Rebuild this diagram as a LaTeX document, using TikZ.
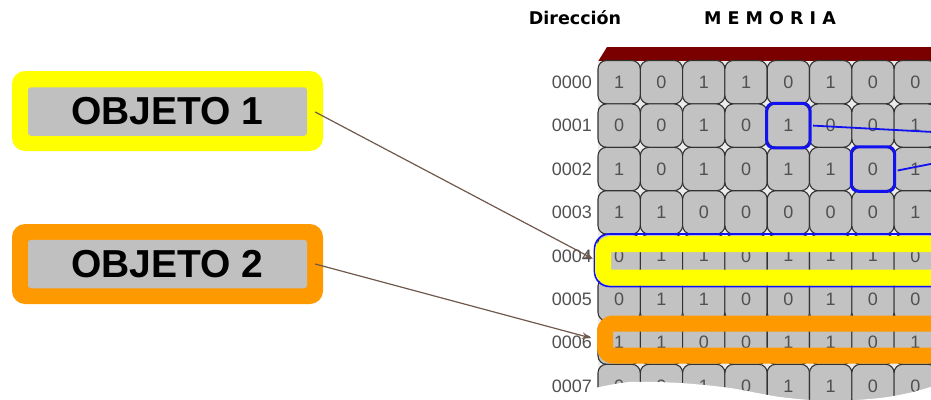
\documentclass[tikz,border=0pt]{standalone}
\usepackage{fontspec}
\setmainfont{Liberation Sans}
\newfontfamily\headfont{DejaVu Sans}
\usetikzlibrary{arrows.meta}

\definecolor{cellgray}{RGB}{194,194,194}
\definecolor{celledge}{RGB}{50,50,50}
\definecolor{gapfill}{RGB}{236,236,236}
\definecolor{digitgray}{RGB}{80,80,80}
\definecolor{barred}{RGB}{122,0,0}
\definecolor{hlyellow}{RGB}{255,255,0}
\definecolor{hlorange}{RGB}{255,153,0}
\definecolor{hlblue}{RGB}{18,18,240}
\definecolor{pointer}{RGB}{112,88,76}
\definecolor{tagfill}{RGB}{192,192,192}

\tikzset{
  cell/.style={rectangle, rounded corners=8.5pt, draw=celledge, fill=cellgray,
    line width=1.1pt, minimum width=42.3pt, minimum height=43.4pt, inner sep=0pt,
    text=digitgray, font=\fontsize{18}{18}\selectfont},
  addr/.style={anchor=east, inner sep=0pt, text=digitgray,
    font=\fontsize{18}{18}\selectfont},
  head/.style={inner sep=0pt, font=\headfont\bfseries\fontsize{17.5}{17.5}\selectfont},
  cellmark/.style={draw=hlblue, line width=3pt, rounded corners=7pt},
  bluetrace/.style={draw=hlblue, line width=1.8pt},
  rowframe/.style={rectangle, inner sep=0pt, fill=none, rounded corners=8pt, line width=16pt},
  tagouter/.style={rectangle, rounded corners=13pt, minimum width=311pt, minimum height=80pt, inner sep=0pt},
  taginner/.style={rectangle, rounded corners=3pt, fill=tagfill, minimum width=279pt,
    minimum height=48.5pt, inner sep=0pt, font=\bfseries\fontsize{39}{39}\selectfont},
  pointerarrow/.style={draw=pointer, line width=1.2pt, -{Stealth[length=9pt,width=6.5pt]}}
}

\begin{document}
\begin{tikzpicture}[x=1pt,y=-1pt]
\useasboundingbox (0,0) rectangle (931,399);
\begin{scope}
\clip (0,0) rectangle (931,399);

% headings
\node[head] (dir) at (575,18) {Dirección};
\node[head] (mem) at (770,18) {M E M O R I A};

% top bar of the memory block
\fill[barred] (598,61.5) -- (607,47) -- (945,47) -- (945,61.5) -- cycle;

% gaps between the rounded cells
\fill[gapfill] (598,60.5) rectangle (945,399);

% memory cells and addresses
\foreach \r/\bits in {0/{1,0,1,1,0,1,0,0},1/{0,0,1,0,1,0,0,1},2/{1,0,1,0,1,1,0,1},
  3/{1,1,0,0,0,0,0,1},4/{0,1,1,0,1,1,1,0},5/{0,1,1,0,0,1,0,0},
  6/{1,1,0,0,1,1,0,1},7/{0,0,1,0,1,1,0,0}}{
  \node[addr] (a-\r) at (592,{60.5+43.4*\r+21.7}) {000\r};
  \foreach \b [count=\c from 0] in \bits
    \node[cell] (c-\r-\c) at ({598+42.3*\c+21.15},{60.5+43.4*\r+21.7}) {\b};
}

% marked single bits and their traces
\draw[cellmark] (c-1-4.south west) rectangle (c-1-4.north east);
\draw[cellmark] (c-2-6.south west) rectangle (c-2-6.north east);
\coordinate (t1) at (933,132);
\coordinate (t2) at (933,163.5);
\draw[bluetrace] ([xshift=3pt]c-1-4.east) -- (t1);
\draw[bluetrace] ([xshift=3pt,yshift=-1.5pt]c-2-6.east) -- (t2);

% highlighted words
\node[rectangle, draw=hlblue, line width=1.6pt, rounded corners=15pt, inner sep=0pt,
  minimum width=369pt, minimum height=52.5pt] (w4) at (779,260.25) {};
\node[rowframe, draw=hlyellow, minimum width=350pt, minimum height=33.5pt] (row4) at (778,260.75) {};
\node[rowframe, draw=hlorange, minimum width=348pt, minimum height=32pt] (row6) at (779,339.5) {};

% torn lower edge
\fill[white] plot[smooth] coordinates {(595,388) (630,382) (680,383) (730,388) (780,397)
  (830,401) (880,398) (913,392) (940,384)} -- (940,410) -- (595,410) -- cycle;

% object tags
\node[tagouter, fill=hlyellow] (obj1) at (167.5,111) {};
\node[taginner] (obj1lbl) at (167.5,111.5) {OBJETO 1};
\node[tagouter, fill=hlorange] (obj2) at (167.5,264) {};
\node[taginner] (obj2lbl) at (167.5,264) {OBJETO 2};

% pointers from tags to words
\draw[pointerarrow] ([xshift=-8pt,yshift=-1pt]obj1.east) -- ([xshift=-2pt,yshift=2pt]row4.west);
\draw[pointerarrow] ([xshift=-8pt]obj2.east) -- ([xshift=-6pt,yshift=1.5pt]row6.west);
\end{scope}
\end{tikzpicture}
\end{document}
